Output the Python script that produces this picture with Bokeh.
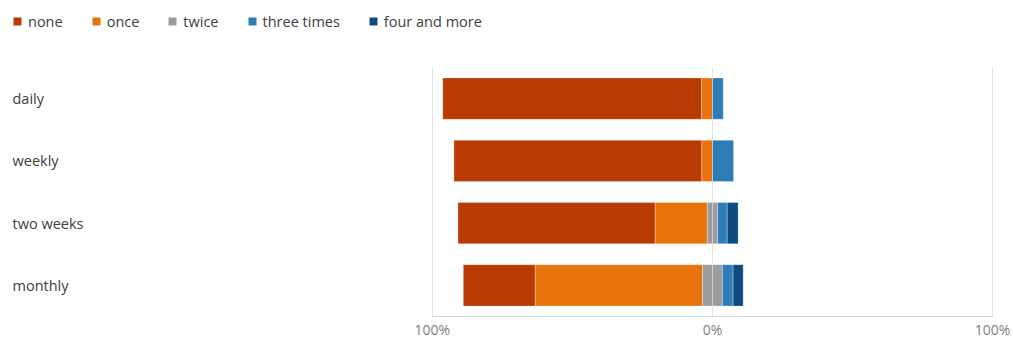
from bokeh.plotting import figure
from bokeh.models import (ColumnDataSource, Range1d, FixedTicker, Legend, LegendItem)
from bokeh.layouts import column, row
from bokeh.core.properties import value
from bokeh.embed import file_html
from bokeh.resources import INLINE

categories = ["daily", "weekly", "two weeks", "monthly"]
none_vals = [92.4, 88.5, 70.4, 25.7]
once_vals = [3.9, 3.8, 18.6, 59.7]
twice_vals = [0.0, 0.0, 3.7, 7.1]
three_vals = [3.9, 7.6, 3.4, 3.8]
four_vals = [0.0, 0.0, 3.9, 3.6]

series_names = ["none", "once", "twice", "three times", "four and more"]
colors = ["#BA3B02", "#E8730C", "#9C9C9C", "#2F7DB6", "#0D4A80"]
tick_values = [-100, 0, 100]
tick_labels = ["100%", "0%", "100%"]

n = len(categories)
ypos = [n - 1 - i for i in range(n)]

# diverging stacks: "twice" split across zero
half = [t / 2 for t in twice_vals]
tw_l_right = [0.0] * n
tw_l_left = [-h for h in half]
once_right = tw_l_left
once_left = [a - o for a, o in zip(once_right, once_vals)]
none_right = once_left
none_left = [a - v for a, v in zip(none_right, none_vals)]
tw_r_left = [0.0] * n
tw_r_right = half
three_left = tw_r_right
three_right = [a + v for a, v in zip(three_left, three_vals)]
four_left = three_right
four_right = [a + v for a, v in zip(four_left, four_vals)]

FONT = "Open Sans"
TOP_H = 67
BODY_H = 274
LEFT_W = 400
MAIN_W = 1013 - LEFT_W
BOTTOM = 25

y_range = Range1d(-0.5, n - 0.5)


def clean(fig):
    fig.outline_line_color = None
    fig.background_fill_color = "white"
    fig.border_fill_color = "white"


# ---- main plot ----
p = figure(width=MAIN_W, height=BODY_H, output_backend="svg", toolbar_location=None,
           x_range=Range1d(-100.3, 100.3), y_range=y_range,
           min_border_left=431 - LEFT_W, min_border_right=20, min_border_top=0,
           min_border_bottom=BOTTOM)
clean(p)

segments = [
    ("none", none_left, none_right, colors[0]),
    ("once", once_left, once_right, colors[1]),
    ("twice", tw_l_left, tw_l_right, colors[2]),
    ("twice_r", tw_r_left, tw_r_right, colors[2]),
    ("three times", three_left, three_right, colors[3]),
    ("four and more", four_left, four_right, colors[4]),
]
for name, l, r, c in segments:
    src = ColumnDataSource(dict(y=ypos, left=l, right=r))
    p.hbar(y="y", left="left", right="right", height=0.665, source=src,
           fill_color=c, line_color="white", line_width=0.6, line_alpha=0.5)

p.yaxis.visible = False
p.ygrid.visible = False
p.xaxis.ticker = FixedTicker(ticks=tick_values)
p.xaxis.major_label_overrides = {t: s for t, s in zip(tick_values, tick_labels)}
p.xaxis.axis_line_color = "#DADADA"
p.xaxis.major_tick_line_color = None
p.xaxis.major_tick_out = 0
p.xaxis.major_tick_in = 0
p.xaxis.minor_tick_line_color = None
p.xaxis.major_label_text_font = FONT
p.xaxis.major_label_text_font_size = "14px"
p.xaxis.major_label_text_color = "#7F7F7F"
p.xaxis.major_label_standoff = 3
p.xgrid.ticker = FixedTicker(ticks=tick_values)
p.xgrid.grid_line_color = "#E3E3E3"

# ---- category labels ----
pl = figure(width=LEFT_W, height=BODY_H, output_backend="svg", toolbar_location=None,
            x_range=Range1d(0, LEFT_W), y_range=y_range,
            min_border_left=0, min_border_right=0, min_border_top=0,
            min_border_bottom=BOTTOM)
clean(pl)
pl.axis.visible = False
pl.grid.visible = False
pl.text(x=[12] * n, y=ypos, text=categories, text_align="left", text_baseline="middle",
        text_font=value(FONT), text_font_size="14.5px", text_color="#404040")

# ---- legend row ----
pt = figure(width=1013, height=TOP_H, output_backend="svg", toolbar_location=None,
            x_range=Range1d(0, 1013), y_range=Range1d(0, TOP_H),
            min_border_left=0, min_border_right=0, min_border_top=0, min_border_bottom=0)
clean(pt)
pt.axis.visible = False
pt.grid.visible = False
nan = float("nan")
items = []
for nm, c in zip(series_names, colors):
    r = pt.quad(left=[nan], right=[nan], top=[nan], bottom=[nan],
                fill_color=c, line_color=None)
    items.append(LegendItem(label=nm, renderers=[r]))
legend = Legend(items=items, orientation="horizontal", location=(12, 36),
                border_line_alpha=0, background_fill_alpha=0, padding=0, margin=0,
                spacing=28, label_standoff=6, glyph_width=10, glyph_height=10,
                label_height=20, label_text_font=FONT, label_text_font_size="14.5px",
                label_text_color="#404040", label_text_baseline="middle")
pt.add_layout(legend, "center")

layout = column(pt, row(pl, p, spacing=0), spacing=0)
open("out.html", "w").write(file_html(layout, INLINE))
